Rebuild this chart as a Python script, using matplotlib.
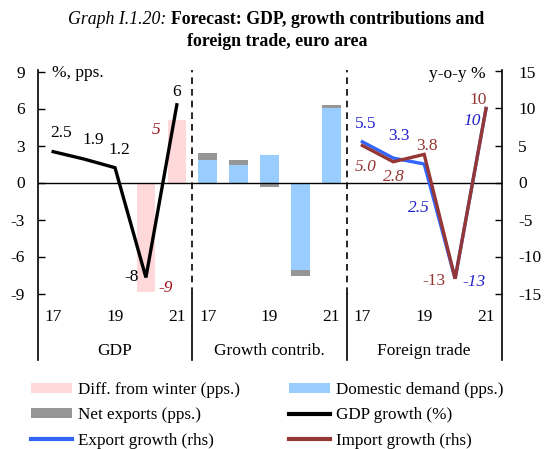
import matplotlib
matplotlib.use("Agg")
import matplotlib.pyplot as plt
from matplotlib.patches import Patch
from matplotlib.lines import Line2D

plt.rcParams['font.family'] = ['Liberation Serif', 'DejaVu Serif']
plt.rcParams['axes.unicode_minus'] = False

# ---- data ----
groups = ["GDP", "Growth contrib.", "Foreign trade"]
years = ["17", "18", "19", "20", "21"]
year_ticks = ["17", "19", "21"]

gdp_growth = [2.5, 1.9, 1.2, -7.7, 6.3]
gdp_labels = ["2.5", "1.9", "1.2", "-8", "6"]
diff_winter = [0, 0, 0, -8.9, 5.1]
diff_labels = ["", "", "", "-9", "5"]

domestic_demand = [1.85, 1.4, 2.2, -7.1, 6.05]
net_exports = [0.55, 0.45, -0.4, -0.45, 0.25]

export_growth = [5.5, 3.3, 2.5, -13.0, 10.0]
export_labels = ["5.5", "3.3", "2.5", "-13", "10"]
import_growth = [5.0, 2.8, 3.8, -13.0, 10.0]
import_labels = ["5.0", "2.8", "3.8", "-13", "10"]

# ---- styles ----
PINK = "#FFD9D9"
BLUE = "#99CCFF"
GRAY = "#969696"
EXP = "#3366FF"
IMP = "#953735"
DRED = "#A0141E"
LBLUE = "#2020CC"

W, H = 546, 449
fig = plt.figure(figsize=(W / 100, H / 100), dpi=100)
x_left, x_right = 37.7, 501.5
y_top, y_bot = 71.5, 293.5
ax = fig.add_axes([x_left / W, 1 - y_bot / H, (x_right - x_left) / W, (y_bot - y_top) / H])
ax2 = ax.twinx()

n = len(years)
xg = [list(range(g * n, g * n + n)) for g in range(3)]

# GDP group
ax.bar(xg[0], diff_winter, width=0.6, color=PINK, zorder=2)
ax.plot(xg[0], gdp_growth, color="black", lw=2.4, zorder=4, solid_joinstyle="miter")

# Growth contributions
bw = 0.6
ax.bar(xg[1], domestic_demand, width=bw, color=BLUE, zorder=2)
nx_bottom = [d if nxv >= 0 else (d if d < 0 else 0) for d, nxv in zip(domestic_demand, net_exports)]
ax.bar(xg[1], net_exports, bottom=nx_bottom, width=bw, color=GRAY, zorder=2)

# Foreign trade (rhs)
ax2.plot(xg[2], export_growth, color=EXP, lw=2.4, zorder=4, solid_joinstyle="miter")
ax2.plot(xg[2], import_growth, color=IMP, lw=2.4, zorder=5, solid_joinstyle="miter")

ax.set_xlim(-0.5, 3 * n - 0.5)
ax.set_ylim(-9, 9)
ax2.set_ylim(-15, 15)
ax.set_yticks(range(-9, 10, 3))
ax2.set_yticks(range(-15, 16, 5))
ax.set_xticks([])
for a in (ax, ax2):
    for s in a.spines.values():
        s.set_visible(False)
    a.tick_params(axis='y', direction='in', length=5, width=1, labelsize=12.5)
    a.patch.set_visible(False)
ax.tick_params(axis='y', pad=9)
ax2.tick_params(axis='y', pad=12)

ax.axhline(0, color="black", lw=1, zorder=3)

# dashed separators
for b in (n - 0.5, 2 * n - 0.5):
    ax.plot([b, b], [-9, 9.1], color="black", lw=1.2, ls=(0, (4, 3)), zorder=3, clip_on=False)

# vertical lines (axes and separators) extending below
trans = ax.get_xaxis_transform()
ybot_ax = -(360 - y_bot) / (y_bot - y_top)
ytop_ax = 1 + 1.5 / (y_bot - y_top)
ax.plot([-0.5, -0.5], [ybot_ax, ytop_ax], transform=trans, color="black", lw=1.2, clip_on=False)
ax.plot([3 * n - 0.5] * 2, [ybot_ax, ytop_ax], transform=trans, color="black", lw=1.2, clip_on=False)
for b in (n - 0.5, 2 * n - 0.5):
    ax.plot([b, b], [ybot_ax, 0], transform=trans, color="black", lw=1.2, clip_on=False)

# category labels
yt = -(317 - y_bot) / (y_bot - y_top)
yg = -(351 - y_bot) / (y_bot - y_top)
for g in range(3):
    for i, yl in enumerate(years):
        if yl in year_ticks:
            ax.text(xg[g][i], yt, yl, transform=trans, ha='center', va='center', fontsize=12.5)
    ax.text(xg[g][2], yg, groups[g], transform=trans, ha='center', va='center', fontsize=12.5)

# data labels
fs = 12.5
gdp_pos = [(0.25, 4.05), (1.30, 3.45), (2.14, 2.63), (2.54, -7.64), (4.0, 7.36)]
for (px, py), t in zip(gdp_pos, gdp_labels):
    ax.text(px, py, t, ha='center', va='center', fontsize=fs, color='black')
diff_pos = {3: (3.64, -8.58), 4: (3.33, 4.26)}
for i, (px, py) in diff_pos.items():
    ax.text(px, py, diff_labels[i], ha='center', va='center', fontsize=fs, color=DRED, style='italic')

exp_pos = [(10.10, 7.97), (11.17, 6.35), (11.82, -3.38), (13.6, -13.43), (13.55, 8.3)]
exp_style = ['normal', 'normal', 'italic', 'italic', 'italic']
exp_idx = [0, 1, 2, 3, 4]
for (px, py), i, st in zip(exp_pos, exp_idx, exp_style):
    ax2.text(px, py, export_labels[i], ha='center', va='center', fontsize=fs, color=LBLUE, style=st)

imp_pos = [(10.10, 2.11), (11.03, 0.76), (12.09, 4.88), (12.31, -13.3), (13.76, 11.12)]
imp_style = ['italic', 'italic', 'normal', 'normal', 'normal']
for (px, py), i, st in zip(imp_pos, range(5), imp_style):
    ax2.text(px, py, import_labels[i], ha='center', va='center', fontsize=fs, color=IMP, style=st)

# unit labels
fig.text(52 / W, 1 - 73 / H, "%, pps.", ha='left', va='center', fontsize=12.5)
fig.text(486 / W, 1 - 74 / H, "y-o-y %", ha='right', va='center', fontsize=12.5)

# title
tx = 171
fig.text(tx / W, 1 - 20 / H, "Graph I.1.20: ", ha='right', va='center', fontsize=12.8, style='italic')
fig.text(tx / W, 1 - 20 / H, "Forecast: GDP, growth contributions and", ha='left', va='center', fontsize=12.8, weight='bold')
fig.text(277 / W, 1 - 41 / H, "foreign trade, euro area", ha='center', va='center', fontsize=12.8, weight='bold')

# legend
handles = [
    Patch(facecolor=PINK, edgecolor='none', label="Diff. from winter (pps.)"),
    Patch(facecolor=GRAY, edgecolor='none', label="Net exports (pps.)"),
    Line2D([], [], color=EXP, lw=3, label="Export growth (rhs)"),
    Patch(facecolor=BLUE, edgecolor='none', label="Domestic demand (pps.)"),
    Line2D([], [], color="black", lw=3, label="GDP growth (%)"),
    Line2D([], [], color=IMP, lw=3, label="Import growth (rhs)"),
]
fig.legend(handles=handles, ncol=2, loc='upper left', bbox_to_anchor=(31 / W, 1 - 382 / H),
           frameon=False, fontsize=12.3, handlelength=2.4, handleheight=0.5, handletextpad=0.35,
           columnspacing=2.85, labelspacing=0.55, borderpad=0, borderaxespad=0)

fig.savefig("out.png", dpi=100)
